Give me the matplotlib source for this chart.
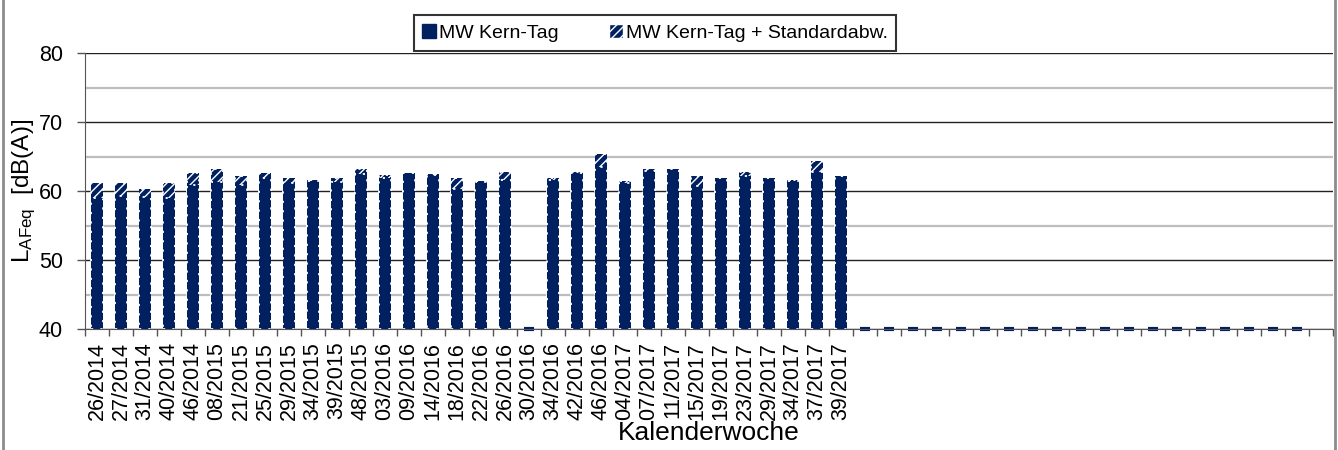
import numpy as np
import matplotlib
matplotlib.use("Agg")
import matplotlib.pyplot as plt
from matplotlib.patches import Patch
from matplotlib.lines import Line2D

plt.rcParams['font.family'] = ['Liberation Sans', 'DejaVu Sans']
plt.rcParams['mathtext.fontset'] = 'custom'
plt.rcParams['mathtext.rm'] = 'Liberation Sans'

weeks = ["26/2014", "27/2014", "31/2014", "40/2014", "46/2014", "08/2015", "21/2015",
         "25/2015", "29/2015", "34/2015", "39/2015", "48/2015", "03/2016", "09/2016",
         "14/2016", "18/2016", "22/2016", "26/2016", "30/2016", "34/2016", "42/2016",
         "46/2016", "04/2017", "07/2017", "11/2017", "15/2017", "19/2017", "23/2017",
         "29/2017", "34/2017", "37/2017", "39/2017"] + [""] * 20

mw_kern_tag = [59.1, 59.3, 59.2, 59.0, 60.9, 61.4, 60.9, 61.9, 61.2, 61.5, 61.4,
               62.5, 62.0, 62.6, 62.4, 60.3, 61.4, 61.7, 0, 61.7, 62.6, 63.6,
               61.2, 63.0, 63.2, 60.8, 61.9, 62.2, 61.9, 61.5, 62.8, 62.2] + [0] * 19 + [np.nan]

mw_kern_tag_sd = [61.2, 61.2, 60.4, 61.2, 62.6, 63.2, 62.3, 62.6, 61.9, 61.6, 62.0,
                  63.2, 62.4, 62.7, 62.5, 62.0, 61.5, 62.75, 0, 61.9, 62.75, 65.4,
                  61.5, 63.2, 63.3, 62.3, 62.0, 62.75, 62.0, 61.6, 64.4, 62.3] + [0] * 19 + [np.nan]

navy = '#002060'
base = 40

fig = plt.figure(figsize=(13.38, 4.5), dpi=100)
ax = fig.add_axes([85/1338, 1-329.3/450, (1333-85)/1338, (329.3-53.5)/450])

x = np.arange(len(weeks))
mw = np.array(mw_kern_tag, dtype=float)
sd = np.array(mw_kern_tag_sd, dtype=float)
w = 0.48

valid_sd = np.isfinite(sd) & (sd > 0)
valid_mw = np.isfinite(mw) & (mw > 0)
zero = np.isfinite(mw) & (mw == 0)

# standard deviation bars (behind)
ax.bar(x[valid_sd], sd[valid_sd] - base, bottom=base, width=w, color=navy,
       edgecolor='white', hatch='////', linewidth=0, zorder=3)
ax.bar(x[valid_sd], sd[valid_sd] - base, bottom=base, width=w, facecolor='none',
       edgecolor='white', linewidth=1.3, linestyle=(0, (1.2, 4)), zorder=3.1)
# mean bars (front)
ax.bar(x[valid_mw], mw[valid_mw] - base, bottom=base, width=w, color=navy,
       edgecolor='white', linewidth=1.3, linestyle=(0, (1.2, 4)), zorder=4)
# zero values shown as dashes at the axis base
ax.bar(x[zero], np.zeros(zero.sum()), bottom=base, width=w * 0.85, color=navy,
       edgecolor=navy, linewidth=3, zorder=5, clip_on=False)

ax.set_xlim(-0.5, len(weeks) - 0.5)
ax.set_ylim(40, 80)
ax.set_yticks([40, 50, 60, 70, 80])
ax.set_yticks([45, 55, 65, 75], minor=True)
ax.grid(axis='y', which='major', color='#222222', linewidth=1.0, zorder=1)
ax.grid(axis='y', which='minor', color='#bdbdbd', linewidth=1.6, zorder=1)
ax.tick_params(axis='y', which='major', length=6, width=1, color='#555555',
               labelsize=15.5, pad=10)
ax.tick_params(axis='y', which='minor', length=0)

ax.set_xticks(x)
ax.set_xticklabels(weeks, rotation=90, fontsize=15.5)
ax.set_xticks(np.arange(len(weeks) + 1) - 0.5, minor=True)
ax.tick_params(axis='x', which='major', length=0, pad=9)
ax.tick_params(axis='x', which='minor', length=5, width=1, color='#555555')

for s in ['top', 'right']:
    ax.spines[s].set_visible(False)
ax.spines['left'].set_color('#555555')
ax.spines['bottom'].set_color('#555555')
ax.spines['left'].set_zorder(6)
ax.spines['bottom'].set_zorder(6)

ax.set_xlabel('Kalenderwoche', fontsize=19, labelpad=1)
fig.text(24/1338, 1-191/450, r'$\mathregular{L_{AFeq}}$  [dB(A)]', rotation=90,
         fontsize=17.5, ha='center', va='center')

handles = [Patch(facecolor=navy, edgecolor=navy, label='MW Kern-Tag'),
           Patch(facecolor=navy, edgecolor='white', hatch='////',
                 label='MW Kern-Tag + Standardabw.')]
leg = fig.legend(handles=handles, loc='center', ncol=2,
                 bbox_to_anchor=(655/1338, 1-33/450), fontsize=14,
                 frameon=True, fancybox=False, edgecolor='black',
                 handlelength=0.7, handleheight=0.7, handletextpad=0.15,
                 columnspacing=2.6, borderpad=0.45, borderaxespad=0)
leg.get_frame().set_linewidth(1.5)

# outer chart border lines
fig.add_artist(Line2D([3/1338, 3/1338], [0, 1], color='#8c8c8c', linewidth=2,
                      transform=fig.transFigure))
fig.add_artist(Line2D([1335/1338, 1335/1338], [0, 1], color='#8c8c8c', linewidth=2,
                      transform=fig.transFigure))

fig.savefig('out.png', dpi=100)
